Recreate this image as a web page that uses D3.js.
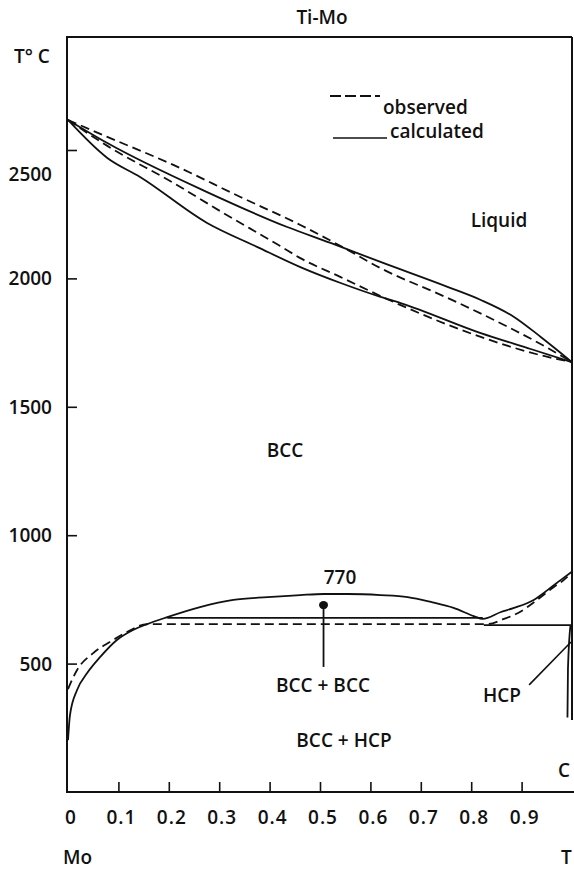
<!DOCTYPE html>
<html><head><meta charset="utf-8">
<script src="https://cdn.jsdelivr.net/npm/d3@7"></script>
<style>
body{margin:0;background:#fff}
text{font-family:"Open Sans",sans-serif;font-weight:600;fill:#111}
</style>
</head><body>
<svg id="chart" width="574" height="871"></svg>
<script>
// ---- data (x = mole fraction Ti, T in °C) ----
const xTicks = [0, 0.1, 0.2, 0.3, 0.4, 0.5, 0.6, 0.7, 0.8, 0.9];
const xTickLabels = ["0", "0.1", "0.2", "0.3", "0.4", "0.5", "0.6", "0.7", "0.8", "0.9"];
const yTicks = [500, 1000, 1500, 2000, 2500];
const yTickLabels = ["500", "1000", "1500", "2000", "2500"];

// calculated liquidus
const calcLiqX = [0, 0.078, 0.276, 0.435, 0.521, 0.620, 0.753, 0.819, 0.885, 0.938, 1];
const calcLiqT = [2617, 2527, 2336, 2200, 2138, 2064, 1967, 1916, 1850, 1772, 1674];
// observed liquidus
const obsLiqX = [0, 0.078, 0.209, 0.342, 0.461, 0.541, 0.620, 0.753, 0.885, 0.952, 1];
const obsLiqT = [2617, 2551, 2442, 2317, 2208, 2126, 2040, 1924, 1799, 1729, 1674];
// observed solidus
const obsSolX = [0, 0.078, 0.209, 0.302, 0.421, 0.461, 0.541, 0.660, 0.819, 0.952, 1];
const obsSolT = [2617, 2516, 2372, 2262, 2126, 2079, 2005, 1896, 1772, 1694, 1674];
// calculated solidus
const calcSolX = [0, 0.078, 0.143, 0.276, 0.376, 0.461, 0.541, 0.620, 0.660, 0.819, 0.918, 1];
const calcSolT = [2617, 2469, 2395, 2216, 2122, 2044, 1982, 1928, 1904, 1787, 1725, 1674];

// calculated low-temperature boundary (BCC/HCP + miscibility gap + beta transus)
const calcLowX = [0, 0.004, 0.018, 0.038, 0.064, 0.097, 0.129, 0.157, 0.197, 0.262, 0.328, 0.396, 0.461, 0.507, 0.555, 0.620, 0.674, 0.720, 0.765, 0.805, 0.823, 0.859, 0.885, 0.924, 0.952, 0.978, 1];
const calcLowT = [202, 300, 397, 463, 526, 592, 631, 654, 681, 720, 748, 759, 767, 771, 771, 767, 759, 740, 717, 685, 674, 701, 717, 748, 787, 826, 858];
// calculated invariant lines
const calcInv1X = [0.197, 0.823], calcInv1T = [678, 678];
const calcInv2X = [0.825, 1], calcInv2T = [650, 650];
// observed low-temperature boundary
const obsLowX = [0, 0.018, 0.050, 0.083, 0.117, 0.157, 0.833, 0.865, 0.893, 0.928, 0.964, 0.984, 1];
const obsLowT = [401, 475, 541, 584, 623, 654, 654, 674, 697, 744, 798, 826, 857];
// narrow HCP field boundary near pure Ti
const hcpBoundX = [0.997, 0.992, 0.991];
const hcpBoundT = [650, 480, 290];

// annotations
const critPoint = {x: 0.507, T: 728};
const critLeader = {x: 0.507, T0: 728, T1: 487};
const hcpLeader = {x0: 0.915, T0: 417, x1: 0.998, T1: 584};

// ---- scales ----
const svg = d3.select("#chart");
const x = d3.scaleLinear().domain([0, 1]).range([68, 572]);
const y = d3.scaleLinear().domain([0, 2940]).range([792, 37]);

const line = d3.line().x(d => x(d[0])).y(d => y(d[1])).curve(d3.curveMonotoneX);
const zip = (a, b) => a.map((v, i) => [v, b[i]]);

const ink = "#111";
function path(X, T, dashed, w) {
  svg.append("path").attr("d", line(zip(X, T)))
    .attr("fill", "none").attr("stroke", ink).attr("stroke-width", w || 1.8)
    .attr("stroke-dasharray", dashed ? "9,5" : null)
    .attr("stroke-linecap", "butt");
}

// ---- frame ----
const frame = svg.append("g").attr("stroke", ink).attr("stroke-width", 2).attr("fill", "none");
frame.append("line").attr("x1", x(0) - 1).attr("x2", x(0) - 1).attr("y1", y(2940)).attr("y2", y(0));
frame.append("line").attr("x1", x(0) - 2).attr("x2", 574).attr("y1", y(0)).attr("y2", y(0));
frame.append("line").attr("x1", x(0) - 2).attr("x2", x(1)).attr("y1", y(2940)).attr("y2", y(2940));
frame.append("line").attr("x1", x(1)).attr("x2", x(1)).attr("y1", y(2940)).attr("y2", y(280));

// x axis ticks (inward)
const xAxis = d3.axisTop(x).tickValues(xTicks.slice(1)).tickSize(10).tickFormat("");
const gx = svg.append("g").attr("transform", `translate(0,${y(0)})`).call(xAxis);
gx.select(".domain").remove();
gx.selectAll(".tick line").attr("stroke", ink).attr("stroke-width", 1.6);
svg.append("g").selectAll("text").data(xTicks).join("text")
  .attr("x", d => x(d) + 3).attr("y", 824)
  .attr("text-anchor", "middle").attr("font-size", 19).attr("letter-spacing", 1)
  .text((d, i) => xTickLabels[i]);

// y axis ticks (inward)
const yAxis = d3.axisRight(y).tickValues(yTicks).tickSize(10).tickFormat("");
const gy = svg.append("g").attr("transform", `translate(${x(0) - 1},0)`).call(yAxis);
gy.select(".domain").remove();
gy.selectAll(".tick line").attr("stroke", ink).attr("stroke-width", 1.6);
svg.append("g").selectAll("text").data(yTicks).join("text")
  .attr("x", 52).attr("y", d => y(d) + 7 + (d === 2500 ? 24 : 0))
  .attr("text-anchor", "end").attr("font-size", 19)
  .text((d, i) => yTickLabels[i]);

// ---- curves ----
path(calcLiqX, calcLiqT, false);
path(obsLiqX, obsLiqT, true);
path(obsSolX, obsSolT, true);
path(calcSolX, calcSolT, false);
path(calcLowX, calcLowT, false);
path(calcInv1X, calcInv1T, false, 1.6);
path(calcInv2X, calcInv2T, false, 1.6);
path(obsLowX, obsLowT, true);
path(hcpBoundX, hcpBoundT, false, 1.8);

// critical point marker and leaders
svg.append("ellipse").attr("cx", x(critPoint.x)).attr("cy", y(critPoint.T))
  .attr("rx", 4.5).attr("ry", 4).attr("fill", ink);
svg.append("line").attr("x1", x(critLeader.x)).attr("x2", x(critLeader.x))
  .attr("y1", y(critLeader.T0)).attr("y2", y(critLeader.T1))
  .attr("stroke", ink).attr("stroke-width", 1.8);
svg.append("line").attr("x1", x(hcpLeader.x0)).attr("y1", y(hcpLeader.T0))
  .attr("x2", x(hcpLeader.x1)).attr("y2", y(hcpLeader.T1))
  .attr("stroke", ink).attr("stroke-width", 1.6);

// ---- legend ----
svg.append("line").attr("x1", 330).attr("x2", 380).attr("y1", 96).attr("y2", 96)
  .attr("stroke", ink).attr("stroke-width", 1.8).attr("stroke-dasharray", "11,4");
svg.append("text").attr("x", 383).attr("y", 114).attr("font-size", 19).text("observed");
svg.append("line").attr("x1", 333).attr("x2", 387).attr("y1", 138).attr("y2", 138)
  .attr("stroke", ink).attr("stroke-width", 1.6);
svg.append("text").attr("x", 390).attr("y", 138).attr("font-size", 19).text("calculated");

// ---- labels ----
const lab = (t, xx, yy, anchor, size) => svg.append("text").attr("x", xx).attr("y", yy)
  .attr("text-anchor", anchor || "start").attr("font-size", size || 19).text(t);
lab("Ti-Mo", 322, 24, "middle");
lab("T° C", 14, 63);
lab("Liquid", 499, 227, "middle");
lab("BCC", 285, 457, "middle");
lab("770", 340, 584, "middle");
lab("BCC + BCC", 323, 692, "middle");
lab("HCP", 502, 702, "middle");
lab("BCC + HCP", 344, 747, "middle");
lab("C", 558, 777);
lab("Mo", 63, 864);
lab("T", 561, 864);
</script>
</body></html>
